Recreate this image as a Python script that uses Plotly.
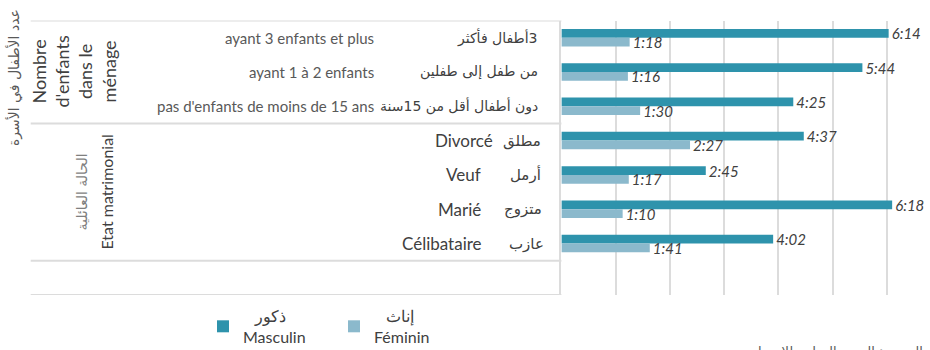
import plotly.graph_objects as go

# Rows from top to bottom (an eighth, empty row closes the axis)
fr_labels = ["ayant 3 enfants et plus", "ayant 1 à 2 enfants",
             "pas d'enfants de moins de 15 ans",
             "Divorcé", "Veuf", "Marié", "Célibataire"]
ar_labels = ["\u200f3أطفال فأكثر", "من طفل إلى طفلين", "دون أطفال أقل من 15سنة",
             "مطلق", "أرمل", "متزوج", "عازب"]

# Daily time, in minutes
male_minutes = [374, 344, 265, 277, 165, 378, 242]
female_minutes = [78, 76, 90, 147, 77, 70, 101]

# Row groups
group_fr = ["Nombre<br>d'enfants<br>dans le<br>ménage", "Etat matrimonial"]
group_ar = ["عدد الأطفال في الأسرة", "الحالة العائلية"]

series_ar = ["ذكور", "إناث"]
series_fr = ["Masculin", "Féminin"]

W, H = 930, 350
MALE_C = "#2e93ac"
FEMALE_C = "#8bb9cc"
LINE_C = "#dcdcdc"
TXT = "#404040"
LAT = "Lato, 'Open Sans', sans-serif"
ARF = "'DejaVu Sans', sans-serif"

def px(x):
    return x / W

def py(y):
    return 1 - y / H

def hmm(m):
    return f"{m // 60}:{m % 60:02d}"

rows = list(range(len(male_minutes)))

fig = go.Figure()
for vals, color, ar, fr in [(male_minutes, MALE_C, series_ar[0], series_fr[0]),
                            (female_minutes, FEMALE_C, series_ar[1], series_fr[1])]:
    fig.add_trace(go.Bar(
        y=rows, x=vals, orientation="h",
        name="\u00a0\u00a0\u00a0" + ar + "<br>" + fr,
        marker=dict(color=color, line=dict(width=0)),
        text=[hmm(v) for v in vals], textposition="outside",
        constraintext="none",
        textfont=dict(family=LAT, size=15, color=TXT, style="italic"),
        cliponaxis=False, hoverinfo="skip",
    ))

x_left = 561.4
px_per_min = 52.5 / 60
x_max = (W - x_left) / px_per_min

annotations = []
fr_right = [376, 376, 376, 495, 483, 483, 484]
ar_right = [540, 540, 540, 543, 543, 544, 546]
for i in rows:
    small = i < 3
    annotations.append(dict(
        x=px(fr_right[i]), xref="paper", y=i, yref="y",
        xanchor="right", yanchor="middle",
        text=fr_labels[i], showarrow=False,
        font=dict(family=LAT, size=15 if small else 17,
                  color="#595959" if small else TXT)))
    annotations.append(dict(
        x=px(ar_right[i]), xref="paper", y=i, yref="y",
        xanchor="right", yanchor="middle",
        text=ar_labels[i], showarrow=False,
        font=dict(family=ARF, size=14 if small else 15, color=TXT)))

# Rotated group headers
annotations += [
    dict(x=px(73.5), xref="paper", y=1, yref="y", text=group_fr[0],
         xanchor="center", yanchor="middle",
         textangle=-90, showarrow=False, align="center",
         font=dict(family=LAT, size=18, color=TXT)),
    dict(x=px(14), xref="paper", y=py(78), yref="paper", text=group_ar[0],
         xanchor="center", yanchor="middle",
         textangle=-90, showarrow=False,
         font=dict(family=ARF, size=14, color="#595959")),
    dict(x=px(106.5), xref="paper", y=4.5, yref="y", text=group_fr[1],
         xanchor="center", yanchor="middle",
         textangle=-90, showarrow=False,
         font=dict(family=LAT, size=16, color=TXT)),
    dict(x=px(82.5), xref="paper", y=4.5, yref="y", text=group_ar[1],
         xanchor="center", yanchor="middle",
         textangle=-90, showarrow=False,
         font=dict(family=ARF, size=14, color="#7f7f7f")),
]

# Title and source, cut by the page edges
annotations += [
    dict(x=px(450), xref="paper", y=py(1), yref="paper",
         xanchor="center", yanchor="bottom",
         text="(الساعات والدقائق)", showarrow=False,
         font=dict(family=ARF, size=20, color="#31a7c2")),
    dict(x=px(925), xref="paper", y=py(342), yref="paper", yanchor="top",
         xanchor="right", text="المصدر: المعهد الوطني للإحصاء", showarrow=False,
         font=dict(family=ARF, size=13, color="#595959")),
]

# Table rules on the category side
shapes = []
for yb in [-0.5, 2.5, 6.5, 7.5]:
    shapes.append(dict(type="line", xref="paper", yref="y",
                       x0=px(30.7), x1=px(x_left), y0=yb, y1=yb,
                       line=dict(color=LINE_C, width=2)))

fig.update_layout(
    width=W, height=H,
    margin=dict(l=0, r=0, t=0, b=0, autoexpand=False),
    paper_bgcolor="white", plot_bgcolor="white",
    barmode="group", bargap=0.49, bargroupgap=0,
    xaxis=dict(domain=[px(x_left), 1], range=[0, x_max],
               showticklabels=False, ticks="", dtick=62, tick0=0,
               showgrid=True, gridcolor=LINE_C, gridwidth=2, zeroline=False),
    yaxis=dict(domain=[py(295), py(20.5)], range=[7.5, -0.5],
               showticklabels=False, ticks="", showgrid=False, zeroline=False,
               showline=True, linecolor=LINE_C, linewidth=2),
    showlegend=True,
    legend=dict(orientation="h", x=px(203), y=py(299), yanchor="top",
                xanchor="left", entrywidth=86, entrywidthmode="pixels",
                font=dict(family=LAT, size=16, color=TXT), valign="middle"),
    annotations=annotations, shapes=shapes,
    font=dict(family=LAT, color=TXT),
)

fig.write_html("out.html")
